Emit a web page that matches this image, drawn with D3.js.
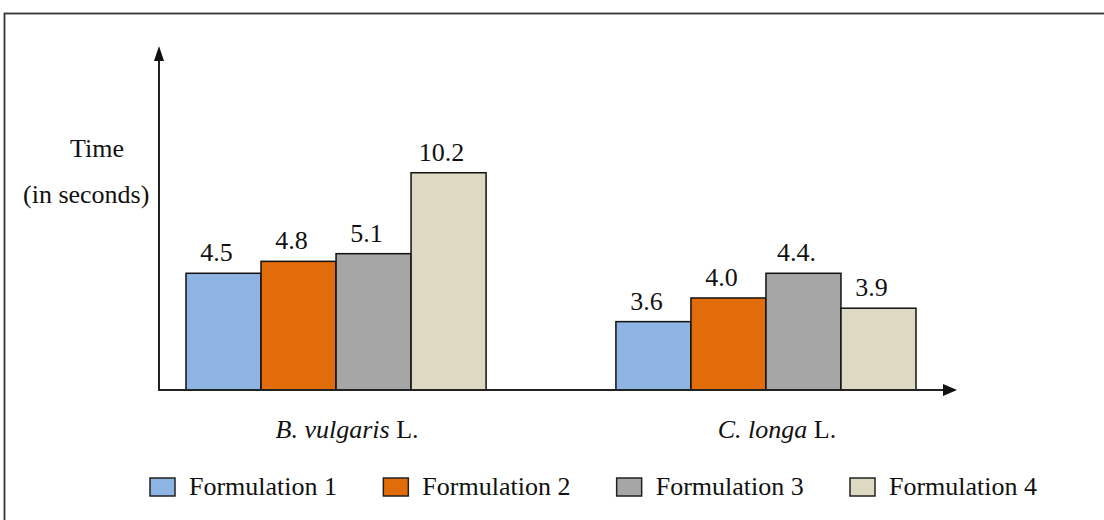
<!DOCTYPE html>
<html>
<head>
<meta charset="utf-8">
<script src="https://cdn.jsdelivr.net/npm/d3@7"></script>
<style>
  body { margin: 0; background: #fff; }
  svg text { font-family: "Liberation Serif", "Times New Roman", serif; font-size: 26px; fill: #111; }
</style>
</head>
<body>
<svg id="chart"></svg>
<script>
var categories = ["B. vulgaris", "C. longa"];
var series = ["Formulation 1", "Formulation 2", "Formulation 3", "Formulation 4"];
var colors = ["#8eb4e3", "#e36c0a", "#a6a6a6", "#ddd9c3"];

// value labels exactly as printed on the figure
var labels = [
  ["4.5", "4.8", "5.1", "10.2"],
  ["3.6", "4.0", "4.4.", "3.9"]
];
// the figure is not drawn to scale: bar lengths as drawn, read against the axis
var barHeights = [
  [5.48, 6.04, 6.40, 10.2],
  [3.21, 4.32, 5.48, 3.84]
];

var width = 1104, height = 520;

var svg = d3.select("#chart")
    .attr("width", width)
    .attr("height", height);

// outer frame (runs off the right and bottom edges)
svg.append("rect")
    .attr("x", 4.5).attr("y", 13.5)
    .attr("width", 1120).attr("height", 530)
    .attr("fill", "none")
    .attr("stroke", "#333")
    .attr("stroke-width", 1.8);

var x0 = d3.scaleBand()
    .domain(categories)
    .range([186, 916])
    .paddingInner(0.302);

var x1 = d3.scaleBand()
    .domain(series)
    .range([0, x0.bandwidth()]);

var y = d3.scaleLinear()
    .domain([0, 11])
    .range([390, 155.7]);

var color = d3.scaleOrdinal().domain(series).range(colors);

var rows = [];
categories.forEach(function(c, i) {
  series.forEach(function(s, j) {
    rows.push({cat: c, ser: s, h: barHeights[i][j], label: labels[i][j]});
  });
});

var g = svg.append("g");

g.selectAll(".bar")
    .data(rows)
  .enter().append("rect")
    .attr("class", "bar")
    .attr("x", function(d) { return x0(d.cat) + x1(d.ser); })
    .attr("y", function(d) { return y(d.h); })
    .attr("width", x1.bandwidth())
    .attr("height", function(d) { return y(0) - y(d.h); })
    .attr("fill", function(d) { return color(d.ser); })
    .attr("stroke", "#111")
    .attr("stroke-width", 1.5);

g.selectAll(".val")
    .data(rows)
  .enter().append("text")
    .attr("class", "val")
    .attr("x", function(d) { return x0(d.cat) + x1(d.ser) + x1.bandwidth() / 2 - 7; })
    .attr("y", function(d) { return y(d.h) - 12; })
    .attr("text-anchor", "middle")
    .text(function(d) { return d.label; });

// axes: no ticks, just arrows
var axisX0 = 159, axisXEnd = 957, axisTop = 46;

var xAxis = d3.axisBottom(x0).tickSize(0).tickSizeOuter(0).tickPadding(30);
var xg = svg.append("g")
    .attr("transform", "translate(11," + y(0) + ")")
    .call(xAxis);
xg.select(".domain").remove();
xg.selectAll(".tick text")
    .attr("font-size", null)
    .attr("font-family", null)
    .attr("fill", null)
    .text(null)
    .each(function(d) {
      var t = d3.select(this);
      t.append("tspan").style("font-style", "italic").text(d);
      t.append("tspan").text(" L.");
    });

svg.append("line")
    .attr("x1", axisX0).attr("y1", y(0))
    .attr("x2", axisXEnd - 12).attr("y2", y(0))
    .attr("stroke", "#222").attr("stroke-width", 2);
svg.append("path")
    .attr("d", "M" + axisXEnd + "," + y(0) + "l-14,-6l0,12z")
    .attr("fill", "#111");

svg.append("line")
    .attr("x1", axisX0).attr("y1", y(0) + 1)
    .attr("x2", axisX0).attr("y2", axisTop + 12)
    .attr("stroke", "#222").attr("stroke-width", 2);
svg.append("path")
    .attr("d", "M" + axisX0 + "," + axisTop + "l-5,15l10,0z")
    .attr("fill", "#111");

svg.append("text").attr("x", 70).attr("y", 157).text("Time");
svg.append("text").attr("x", 23).attr("y", 203).text("(in seconds)");

// legend
var lx = d3.scalePoint().domain(series).range([150, 850]);

var legend = svg.selectAll(".legend")
    .data(series)
  .enter().append("g")
    .attr("class", "legend")
    .attr("transform", function(d) { return "translate(" + lx(d) + ",478)"; });

legend.append("rect")
    .attr("width", 25)
    .attr("height", 18)
    .attr("fill", function(d) { return color(d); })
    .attr("stroke", "#222")
    .attr("stroke-width", 1.5);

legend.append("text")
    .attr("x", 39)
    .attr("y", 17)
    .text(function(d) { return d; });
</script>
</body>
</html>
